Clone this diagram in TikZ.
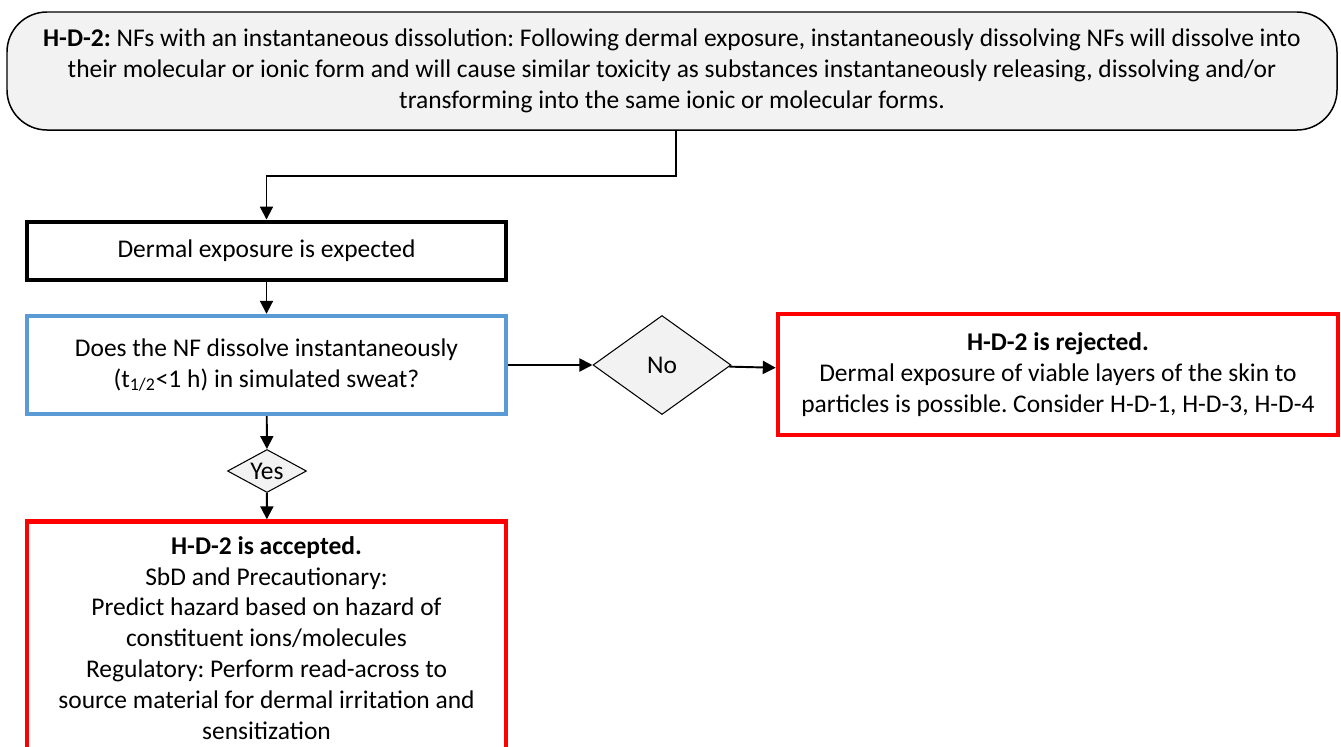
\documentclass[tikz,border=0pt]{standalone}
\usepackage{fontspec}
\setmainfont{Carlito}
\usetikzlibrary{positioning, arrows.meta, shapes.geometric}

\definecolor{boxgray}{HTML}{F2F2F2}
\definecolor{qblue}{HTML}{5B9BD5}
\definecolor{outred}{HTML}{FF0000}

\frenchspacing

\begin{document}
\begin{tikzpicture}[
  font=\fontsize{14.5}{17.6}\selectfont,
  box/.style={draw, align=center, minimum width=9.58cm, inner sep=0pt},
  choice/.style={draw, diamond, fill=boxgray, inner sep=0pt, line width=0.6pt},
  conn/.style={line width=1.1pt, -{Triangle[length=2.6mm, width=2.6mm]}}
 ]
 \useasboundingbox (0,0) rectangle (26.82,-14.92);

 \node[draw, fill=boxgray, rounded corners=0.8cm, line width=0.85pt, align=center,
  minimum width=26.6cm, minimum height=2.36cm] (hyp) at (13.44,-1.42)
  {\textbf{H-D-2:} NFs with an instantaneous dissolution: Following dermal exposure, instantaneously dissolving NFs will dissolve into \\
   their molecular or ionic form and will cause similar toxicity as substances instantaneously releasing, dissolving and/or \\
   transforming into the same ionic or molecular forms.};

 \node[box, line width=2.8pt, minimum height=1.16cm] (dermal) at (5.33,-5.02)
  {Dermal exposure is expected};
 \node[box, draw=qblue, line width=2.5pt, minimum height=1.96cm] (dissolve) at (5.33,-7.30)
  {Does the NF dissolve instantaneously \\ (t\textsubscript{1/2}<1 h) in simulated sweat?};

 \node[choice, minimum width=2.76cm, minimum height=1.98cm, aspect=1.4] (no) at (13.24,-7.30) {No};
 \node[choice, minimum width=1.58cm, minimum height=0.86cm, aspect=1.84] (yes) at (5.34,-9.42) {Yes};

 \node[box, draw=outred, line width=2.5pt, minimum width=11.2cm, minimum height=2.42cm] (rejected) at (21.16,-7.49)
  {\textbf{H-D-2 is rejected.} \\ Dermal exposure of viable layers of the skin to \\ particles is possible. Consider H-D-1, H-D-3, H-D-4};
 \node[box, draw=outred, line width=2.5pt, minimum height=4.66cm] (accepted) at (5.33,-12.76)
  {\textbf{H-D-2 is accepted.} \\ SbD and Precautionary: \\ Predict hazard based on hazard of \\
   constituent ions/molecules \\ Regulatory: Perform read-across to \\
   source material for dermal irritation and \\ sensitization};

 \draw[conn] ([xshift=0.08cm]hyp.south) -- ++(0,-0.9) -| (dermal.north);
 \draw[conn] (dermal) -- (dissolve);
 \draw[conn] (dissolve) -- (no);
 \draw[conn] (no) -- (rejected);
 \draw[conn] (dissolve) -- (yes);
 \draw[conn] (yes) -- (accepted);
\end{tikzpicture}
\end{document}
